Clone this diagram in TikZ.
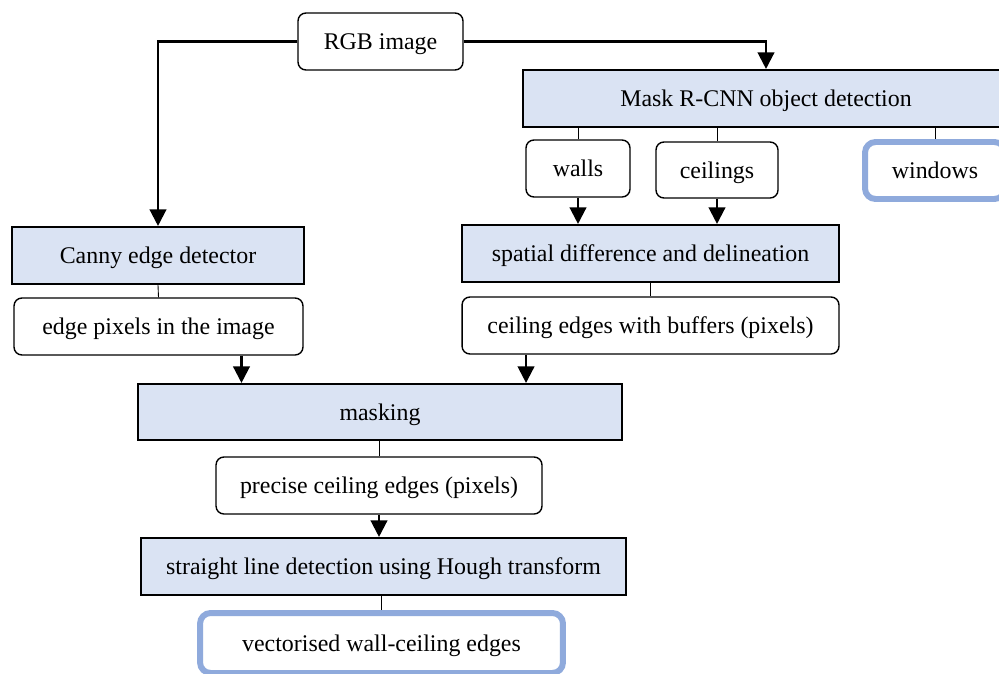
\documentclass[tikz,border=0pt]{standalone}
\usepackage{fontspec}
\setmainfont{Liberation Serif}
\usetikzlibrary{arrows.meta}

\definecolor{stepfill}{HTML}{DAE3F3}
\definecolor{outblue}{HTML}{8FAADC}

\begin{document}
\begin{tikzpicture}[x=0.02cm, y=-0.02cm,
	font=\fontsize{13.6}{16}\selectfont,
	every node/.style={text height=0.98em, text depth=0.05em},
	stepbox/.style={draw, line width=1.2pt, fill=stepfill, inner sep=0pt, minimum height=1.14cm},
	databox/.style={draw, line width=0.8pt, rounded corners=4.5pt, fill=white, inner sep=0pt, minimum height=1.14cm},
	outbox/.style={draw=outblue, line width=3.4pt, rounded corners=6pt, fill=white, inner sep=0pt, minimum height=1.14cm},
	arr/.style={line width=1.3pt, -{Triangle[length=9.5pt, width=9.5pt]}},
	link/.style={line width=0.5pt}]

\def\width{999}
\def\height{673}

\useasboundingbox (0,0) rectangle (\width,\height);

% INPUT
\node [databox, minimum width=3.30cm] (rgb) at (380.5,41.5) {RGB image};

% RIGHT BRANCH
\node [stepbox, minimum width=9.72cm] (mask) at (766,98.5) {Mask R-CNN object detection};
\node [databox, minimum width=2.08cm] (walls) at (578,168.5) {walls};
\node [databox, minimum width=2.44cm, minimum height=1.12cm] (ceilings) at (717,170) {ceilings};
\node [outbox, minimum width=2.80cm] (windows) at (935,170.5) {windows};
\node [stepbox, minimum width=7.54cm] (spatial) at (650.5,253.5) {spatial difference and delineation};
\node [databox, minimum width=7.54cm] (ceilbuf) at (650.5,325.5) {ceiling edges with buffers (pixels)};

% LEFT BRANCH
\node [stepbox, minimum width=5.84cm] (canny) at (158,255.5) {Canny edge detector};
\node [databox, minimum width=5.78cm] (edge) at (158.5,326.5) {edge pixels in the image};

% MERGE
\node [stepbox, minimum width=9.68cm, minimum height=1.12cm] (masking) at (380,412) {masking};
\node [databox, minimum width=6.52cm] (precise) at (379,485.5) {precise ceiling edges (pixels)};
\node [stepbox, minimum width=9.70cm] (hough) at (383.5,566.5) {straight line detection using Hough transform};
\node [outbox, minimum width=7.26cm, minimum height=1.20cm] (vector) at (381.5,643) {vectorised wall-ceiling edges};

% ARROWS
\draw [arr] (rgb.west) -| (canny.north);
\draw [arr] (rgb.east) -| (mask.north);
\draw [arr] (walls.south) -- (walls.south |- spatial.north);
\draw [arr] (ceilings.south) -- (ceilings.south |- spatial.north);
\draw [arr] ([xshift=1.66cm]edge.south) -- ([xshift=1.66cm]edge.south |- masking.north);
\draw [arr] ([xshift=-2.49cm]ceilbuf.south) -- ([xshift=-2.49cm]ceilbuf.south |- masking.north);
\draw [arr] (precise.south) -- (precise.south |- hough.north);

% LINKS
\draw [link] (walls.north) -- (walls.north |- mask.south);
\draw [link] (ceilings.north) -- (ceilings.north |- mask.south);
\draw [link] (windows.north) -- (windows.north |- mask.south);
\draw [link] (canny.south) -- (edge.north);
\draw [link] (spatial.south) -- (ceilbuf.north);
\draw [link] (precise.north) -- (precise.north |- masking.south);
\draw [link] (vector.north) -- (vector.north |- hough.south);

\end{tikzpicture}
\end{document}
